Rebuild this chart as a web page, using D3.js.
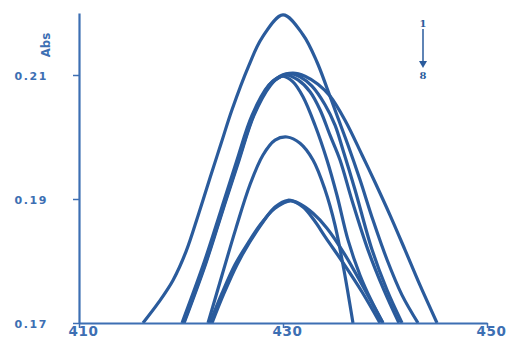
<!DOCTYPE html>
<html>
<head>
<meta charset="utf-8">
<script src="https://cdn.jsdelivr.net/npm/d3@7"></script>
<style>
  body { margin: 0; background: #fff; }
</style>
</head>
<body>
<div id="chart"></div>
<script>
// Width and height
var w = 506;
var h = 341;
var margin = { top: 13, right: 19, bottom: 18, left: 79 };

// axis ticks
var xTicks = [410, 430, 450];
var yTicks = [0.17, 0.19, 0.21];

// spectra 1..8, [wavelength nm, Abs]
var curve1 = [[416.27, 0.1700], [417.84, 0.1734], [419.22, 0.1769], [420.49, 0.1815], [421.67, 0.1873],
              [422.84, 0.1934], [423.92, 0.1989], [425.00, 0.2044], [426.67, 0.2116],
              [427.94, 0.2160], [430.00, 0.2197], [431.96, 0.2165], [433.33, 0.2121], [434.31, 0.2079],
              [435.29, 0.2035], [436.37, 0.1987], [437.55, 0.1931], [438.82, 0.1866], [440.20, 0.1802],
              [441.67, 0.1745], [443.24, 0.1700]];
var curve2 = [[420.30, 0.1700], [422.45, 0.1797], [424.10, 0.1882], [425.70, 0.1963], [427.15, 0.2035],
              [428.80, 0.2084], [429.71, 0.2098], [430.98, 0.2103], [432.16, 0.2098], [433.43, 0.2085],
              [434.61, 0.2066], [436.08, 0.2027], [437.75, 0.1971], [439.02, 0.1927], [440.49, 0.1874],
              [441.96, 0.1818], [443.43, 0.1761], [445.10, 0.1700]];
var curve3 = [[420.20, 0.1700], [422.35, 0.1797], [424.02, 0.1882], [425.59, 0.1963], [427.06, 0.2035],
              [428.73, 0.2084], [429.71, 0.2097], [430.69, 0.2102], [431.67, 0.2097], [432.84, 0.2082],
              [434.12, 0.2052], [435.10, 0.2019], [435.88, 0.1979], [437.06, 0.1915], [438.73, 0.1818],
              [440.20, 0.1753], [441.67, 0.1700]];
var curve4 = [[420.10, 0.1700], [422.25, 0.1797], [423.92, 0.1882], [425.49, 0.1963], [426.96, 0.2035],
              [428.63, 0.2084], [429.51, 0.2095], [430.29, 0.2100], [431.47, 0.2092], [432.65, 0.2073],
              [433.63, 0.2044], [434.61, 0.2003], [435.59, 0.1963], [436.76, 0.1898], [438.33, 0.1818],
              [439.90, 0.1753], [441.37, 0.1700]];
var curve5 = [[420.25, 0.1700], [422.40, 0.1797], [424.06, 0.1882], [425.64, 0.1963], [427.10, 0.2035],
              [428.40, 0.2078], [429.12, 0.2092], [430.00, 0.2098], [430.98, 0.2089], [431.96, 0.2065],
              [433.14, 0.2019], [434.31, 0.1963], [435.29, 0.1906], [436.37, 0.1834], [437.55, 0.1777],
              [438.63, 0.1737], [439.80, 0.1700]];
var curve6 = [[422.65, 0.1700], [424.02, 0.1777], [425.39, 0.1853], [426.76, 0.1923], [428.04, 0.1971],
              [429.22, 0.1995], [430.39, 0.2000], [431.67, 0.1990], [432.94, 0.1963], [434.12, 0.1915],
              [435.10, 0.1858], [435.98, 0.1785], [436.86, 0.1700]];
var curve7 = [[423.04, 0.1700], [424.22, 0.1748], [425.49, 0.1794], [426.76, 0.1831], [428.04, 0.1863],
              [429.22, 0.1887], [430.49, 0.1898], [431.67, 0.1892], [432.94, 0.1877], [434.31, 0.1853],
              [436.08, 0.1810], [437.94, 0.1756], [439.80, 0.1700]];
var curve8 = [[422.84, 0.1700], [424.02, 0.1748], [425.29, 0.1794], [426.57, 0.1829], [427.84, 0.1860],
              [429.22, 0.1885], [430.78, 0.1897], [431.96, 0.1887], [433.04, 0.1866], [434.22, 0.1837],
              [435.98, 0.1795], [437.75, 0.1750], [439.51, 0.1700]];

var spectra = [curve1, curve2, curve3, curve4, curve5, curve6, curve7, curve8];

var lineColor = "#2a5b9c";
var axisColor = "#3d6fb3";

//Create SVG element
var svg = d3.select("#chart")
            .append("svg")
            .attr("width", w)
            .attr("height", h);

var x = d3.scaleLinear()
          .domain([410, 450])
          .range([margin.left, w - margin.right]);

var y = d3.scaleLinear()
          .domain([0.17, 0.22])
          .range([h - margin.bottom, margin.top]);

var line = d3.line()
             .x(function(d) { return x(d[0]); })
             .y(function(d) { return y(d[1]); })
             .curve(d3.curveCatmullRom.alpha(0.5));

svg.append("clipPath")
   .attr("id", "plot")
   .append("rect")
   .attr("x", x(410)).attr("y", 0)
   .attr("width", x(450) - x(410)).attr("height", y(0.17));

svg.append("g")
   .attr("clip-path", "url(#plot)")
   .selectAll("path")
   .data(spectra)
   .enter()
   .append("path")
   .attr("d", line)
   .attr("fill", "none")
   .attr("stroke", lineColor)
   .attr("stroke-width", 3.2)
   .attr("stroke-linejoin", "round");

// axes
var xAxis = svg.append("g")
   .attr("transform", "translate(0," + y(0.17) + ")")
   .call(d3.axisBottom(x).tickValues(xTicks).tickSize(5).tickSizeOuter(0).tickPadding(1).tickFormat(d3.format("d")));

var yAxis = svg.append("g")
   .attr("transform", "translate(" + x(410) + ",0)")
   .call(d3.axisLeft(y).tickValues(yTicks).tickSize(6).tickSizeOuter(0).tickPadding(25).tickFormat(d3.format(".2f")));

[xAxis, yAxis].forEach(function(g) {
  g.select(".domain").attr("stroke", axisColor).attr("stroke-width", 2.2);
  g.selectAll(".tick line").attr("stroke", axisColor).attr("stroke-width", 1.5);
  g.selectAll(".tick text")
   .attr("fill", axisColor)
   .attr("font-family", "DejaVu Sans, sans-serif")
   .attr("font-weight", "bold");
});
yAxis.selectAll(".tick text")
     .attr("font-size", "11px")
     .attr("letter-spacing", "1.6px")
     .attr("dy", "0.4em");
xAxis.selectAll(".tick text")
     .attr("font-size", "13.5px")
     .attr("letter-spacing", "0.6px")
     .attr("dx", "4px")
     .attr("dy", "0.5em");

// y label
svg.append("text")
   .text("Abs")
   .attr("transform", "translate(50,45) rotate(-90)")
   .attr("text-anchor", "middle")
   .attr("font-family", "Liberation Sans Narrow, DejaVu Sans Condensed, sans-serif")
   .attr("font-weight", "bold")
   .attr("font-size", "13px")
   .attr("fill", axisColor);

// legend 1 -> 8
var lx = 423;
svg.append("text")
   .text("1")
   .attr("x", lx).attr("y", 27)
   .attr("text-anchor", "middle")
   .attr("font-family", "DejaVu Serif, serif")
   .attr("font-weight", "bold")
   .attr("font-size", "10px")
   .attr("fill", lineColor);
svg.append("line")
   .attr("x1", lx).attr("y1", 29)
   .attr("x2", lx).attr("y2", 63)
   .attr("stroke", lineColor)
   .attr("stroke-width", 1.5);
svg.append("path")
   .attr("d", "M" + (lx - 4) + ",61 L" + (lx + 4) + ",61 L" + lx + ",68 Z")
   .attr("fill", lineColor);
svg.append("text")
   .text("8")
   .attr("x", lx).attr("y", 79)
   .attr("text-anchor", "middle")
   .attr("font-family", "DejaVu Serif, serif")
   .attr("font-weight", "bold")
   .attr("font-size", "10px")
   .attr("fill", lineColor);
</script>
</body>
</html>
